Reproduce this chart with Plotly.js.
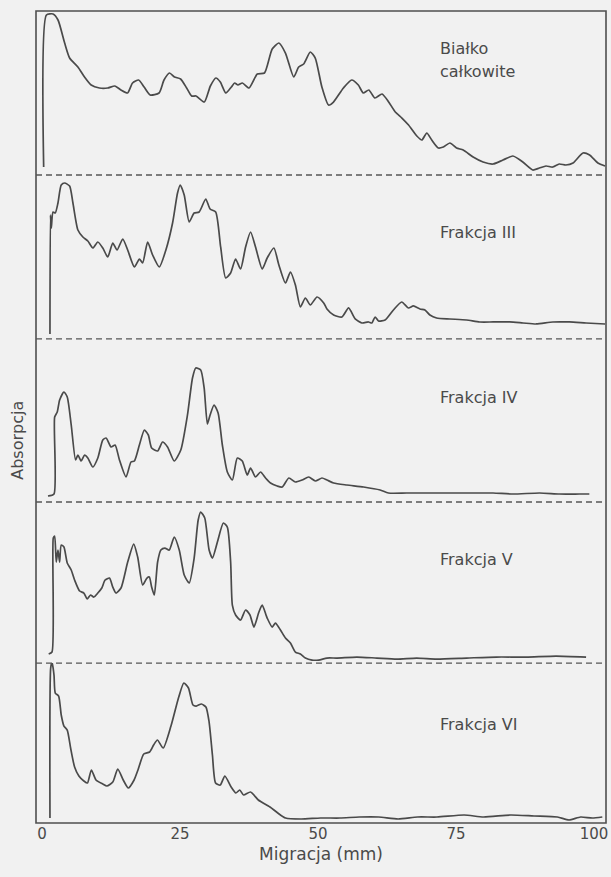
<!DOCTYPE html>
<html>
<head>
<meta charset="utf-8">
<script src="https://cdn.plot.ly/plotly-3.0.1.min.js"></script>
<style>html,body{margin:0;padding:0;background:#f1f1f1;}#chart{width:611px;height:877px;}</style>
</head>
<body>
<div id="chart"></div>
<script>
// ---- Data (migration in mm, absorbance in arbitrary units) ----
var tickValues = [0, 25, 50, 75, 100];
var tickLabels = ["0", "25", "50", "75", "100"];
var panelNames = ["Białko", "całkowite", "Frakcja III", "Frakcja IV", "Frakcja V", "Frakcja VI"];

var migCalkowite = [0.3,0.8,2.0,2.9,4.1,5.0,6.5,7.7,8.9,10.4,11.9,13.2,14.3,15.5,16.4,17.5,18.5,19.6,21.2,22.1,23.1,24.0,25.1,26.2,27.1,27.9,29.4,30.5,31.5,32.3,33.3,34.3,34.9,35.5,36.3,37.5,39.0,40.3,41.7,42.9,44.1,45.6,46.5,47.4,48.6,49.5,50.7,51.9,52.8,54.6,56.1,57.3,58.2,59.2,60.3,61.6,62.8,64.0,65.2,66.4,67.9,68.8,69.7,70.6,71.8,72.7,73.9,75.1,76.3,78.1,79.9,81.7,83.5,85.3,87.1,88.9,90.1,91.3,92.5,93.7,94.9,96.2,98.0,99.2,100.7,102.0];
var absCalkowite = [8,160,161,155,132,117,108,98,90,87,87,89,85,82,92,95,88,80,82,95,102,98,96,87,79,79,73,89,97,93,82,88,92,90,92,87,101,102,126,132,122,98,108,111,123,117,88,70,73,87,95,90,82,85,77,81,73,63,57,50,39,35,42,35,27,28,32,27,25,18,13,11,15,19,13,5,7,9,8,11,10,12,22,20,12,9];

var migFrakcja3 = [1.44,1.53,1.68,1.99,2.40,2.89,3.48,4.10,5.00,5.60,6.50,7.40,8.30,9.21,10.11,11.01,11.91,12.82,13.59,14.62,15.52,16.73,17.64,18.23,19.13,20.04,21.25,22.44,23.65,24.55,25.04,25.76,26.66,27.56,28.47,29.66,30.45,31.46,32.36,33.27,34.17,35.07,35.97,36.88,37.78,38.68,39.89,40.79,42.00,42.91,44.10,45.00,45.90,46.81,47.71,48.61,49.82,51.03,51.62,52.83,54.33,55.54,56.73,57.94,59.15,59.75,60.34,60.96,62.15,63.66,65.16,66.37,67.27,68.47,69.37,70.27,71.48,73.88,76.90,79.30,81.71,84.71,87.13,89.53,92.54,95.54,98.56,102.0];
var absFrakcja3 = [5,124,111,127,126,136,154,156,153,136,109,102,98,91,97,91,82,96,89,100,89,72,80,76,97,84,72,89,116,146,154,144,117,126,127,140,130,127,92,61,66,80,70,92,107,92,70,81,91,74,56,67,54,32,41,34,42,36,30,24,22,31,20,16,17,16,22,18,19,29,37,31,33,30,29,24,21,20,19,17,17,17,16,15,17,17,16,15];

var migFrakcja4 = [1.08,2.17,2.29,2.76,3.19,3.97,4.57,5.29,6.08,6.50,7.09,7.71,8.30,9.21,10.11,11.01,11.61,12.51,13.23,14.03,15.22,16.12,16.73,17.64,18.54,19.26,19.86,20.94,21.84,22.74,23.95,25.14,26.35,27.26,27.85,28.75,29.37,29.96,30.45,31.17,31.90,32.67,33.57,34.48,35.38,36.28,37.18,37.78,38.68,39.59,40.49,41.39,42.60,43.50,44.71,45.90,47.11,48.32,49.51,50.72,51.62,52.83,55.23,58.25,61.25,62.76,66.06,70.88,74.49,78.10,81.71,85.32,90.13,93.74,97.35,99.15];
var absFrakcja4 = [6,8,85,90,102,110,105,77,42,47,41,47,44,35,44,62,64,55,57,42,25,40,41,57,72,67,54,51,60,55,41,52,87,124,134,132,114,78,87,97,89,57,30,22,44,41,27,34,25,30,24,19,16,15,24,20,22,25,21,24,22,19,17,15,12,9,9,9,9,9,9,8,9,8,8,8];

var migFrakcja5 = [1.21,1.81,2.04,2.29,2.58,2.89,3.19,3.48,3.97,4.57,5.29,5.90,6.81,7.58,8.18,8.79,9.39,10.11,10.83,11.43,12.22,12.82,13.41,14.31,15.52,16.61,17.33,18.23,19.01,19.44,19.86,20.34,20.94,21.53,22.26,23.05,23.95,24.86,25.76,26.66,27.56,28.29,28.75,29.48,30.27,30.87,31.77,32.85,33.57,34.17,34.48,35.07,35.97,36.88,37.67,38.39,39.29,39.89,40.79,41.70,42.29,43.19,44.10,45.00,45.90,46.81,47.71,48.92,50.13,51.62,53.43,57.04,60.65,64.26,67.87,71.48,76.90,82.31,87.73,93.14,98.56];
var absFrakcja5 = [9,11,125,127,101,113,101,118,116,100,93,83,72,70,64,68,66,70,75,83,85,76,70,75,101,119,106,78,85,86,76,68,101,113,115,113,126,113,88,80,105,143,151,145,113,105,121,140,136,101,58,48,43,53,48,36,51,58,45,36,40,33,25,20,11,9,5,3,3,5,5,6,5,4,5,4,5,6,6,7,6];

var migFrakcja6 = [1.44,1.57,1.81,2.17,2.40,3.01,3.48,3.97,4.57,5.18,5.90,6.68,7.58,8.23,8.94,9.78,11.01,11.75,12.82,13.72,14.71,15.63,16.68,17.38,18.43,19.49,20.22,20.90,21.95,23.36,24.77,25.69,26.53,27.35,27.94,28.88,29.69,30.27,30.87,31.44,32.29,33.12,34.26,35.11,35.81,36.52,37.78,39.19,41.30,42.71,44.12,46.93,50.45,53.97,57.47,60.99,64.51,68.03,71.55,76.48,79.98,84.91,89.13,93.36,95.47,97.58,99.69,101.5];
var absFrakcja6 = [5,155,161,148,130,127,108,97,93,75,56,47,42,40,53,43,39,37,41,54,43,35,43,53,69,71,78,83,75,97,126,140,135,118,117,119,116,101,68,40,38,47,36,30,33,28,31,23,16,10,5,4,5,5,6,6,4,6,6,8,6,8,7,6,3,6,5,6];

// ---- Chart ----
var ink = "#4a4a4a";
var font = "DejaVu Sans, sans-serif";
var series = [
  [migCalkowite, absCalkowite, "y"],
  [migFrakcja3, absFrakcja3, "y2"],
  [migFrakcja4, absFrakcja4, "y3"],
  [migFrakcja5, absFrakcja5, "y4"],
  [migFrakcja6, absFrakcja6, "y5"]
];
var traceNames = ["Białko całkowite", "Frakcja III", "Frakcja IV", "Frakcja V", "Frakcja VI"];
var data = series.map(function (s, i) {
  return {
    type: "scatter", mode: "lines", x: s[0], y: s[1], xaxis: "x", yaxis: s[2],
    name: traceNames[i], showlegend: false, hoverinfo: "skip",
    line: {color: ink, width: 1.7, shape: "spline", smoothing: 0.6}
  };
});

var bounds = [0, 0.197, 0.3953, 0.5961, 0.798, 1];
var hiddenY = function (lo, hi, top) {
  return {domain: [lo, hi], range: [0, top], anchor: "x", showticklabels: false,
          showgrid: false, zeroline: false, showline: false, ticks: "", fixedrange: true};
};

var layout = {
  width: 611, height: 877,
  margin: {l: 36, r: 5, t: 11, b: 54},
  paper_bgcolor: "#f1f1f1", plot_bgcolor: "#f1f1f1",
  font: {family: font, color: ink},
  xaxis: {
    range: [-1.09, 102.17], anchor: "y5", tickvals: tickValues, ticktext: tickLabels,
    ticks: "", showgrid: false, zeroline: false, showline: false,
    ticklabeloverflow: "allow",
    tickfont: {size: 15, color: ink, family: font},
    title: {text: "Migracja (mm)", font: {size: 17, color: ink, family: font}, standoff: 6}
  },
  yaxis5: hiddenY(bounds[0], bounds[1], 160),
  yaxis4: hiddenY(bounds[1], bounds[2], 161),
  yaxis3: hiddenY(bounds[2], bounds[3], 163),
  yaxis2: hiddenY(bounds[3], bounds[4], 164),
  yaxis: hiddenY(bounds[4], bounds[5], 164),
  shapes: [
    {type: "rect", xref: "paper", yref: "paper", x0: 0, x1: 1, y0: 0, y1: 1,
     line: {color: "#4f4f4f", width: 1.6}}
  ].concat([bounds[1], bounds[2], bounds[3], bounds[4]].map(function (b) {
    return {type: "line", xref: "paper", yref: "paper", x0: 0, x1: 1, y0: b, y1: b,
            line: {color: "#555", width: 1.3, dash: "6px,4px"}};
  })),
  annotations: [
    {text: panelNames[0], xref: "paper", yref: "paper", x: 0.705, y: 0.954, xanchor: "left", yanchor: "middle", showarrow: false, font: {size: 16, color: ink}},
    {text: panelNames[1], xref: "paper", yref: "paper", x: 0.705, y: 0.925, xanchor: "left", yanchor: "middle", showarrow: false, font: {size: 16, color: ink}},
    {text: panelNames[2], xref: "paper", yref: "paper", x: 0.705, y: 0.7278, xanchor: "left", yanchor: "middle", showarrow: false, font: {size: 16, color: ink}},
    {text: panelNames[3], xref: "paper", yref: "paper", x: 0.705, y: 0.5234, xanchor: "left", yanchor: "middle", showarrow: false, font: {size: 16, color: ink}},
    {text: panelNames[4], xref: "paper", yref: "paper", x: 0.705, y: 0.3239, xanchor: "left", yanchor: "middle", showarrow: false, font: {size: 16, color: ink}},
    {text: panelNames[5], xref: "paper", yref: "paper", x: 0.705, y: 0.1207, xanchor: "left", yanchor: "middle", showarrow: false, font: {size: 16, color: ink}},
    {text: "Absorpcja", xref: "paper", yref: "paper", x: -0.032, y: 0.4717, xanchor: "center", yanchor: "middle", textangle: -90, showarrow: false, font: {size: 16, color: ink}}
  ]
};

Plotly.newPlot("chart", data, layout, {staticPlot: true, displayModeBar: false});
</script>
</body>
</html>
